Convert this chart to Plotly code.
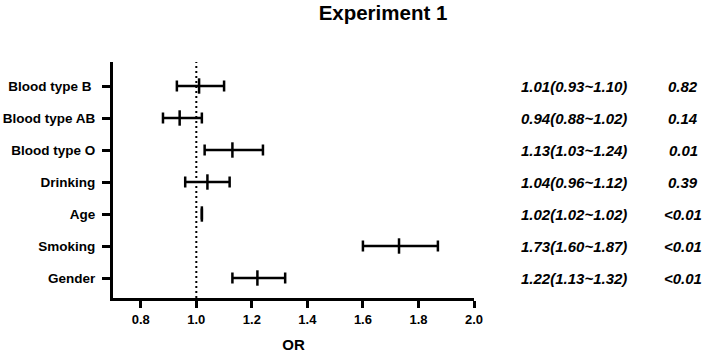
import plotly.graph_objects as go

categories = ["Blood type B\u00a0", "Blood type AB", "Blood type O", "Drinking", "Age", "Smoking", "Gender"]
or_vals = [1.01, 0.94, 1.13, 1.04, 1.02, 1.73, 1.22]
ci_low = [0.93, 0.88, 1.03, 0.96, 1.02, 1.60, 1.13]
ci_high = [1.10, 1.02, 1.24, 1.12, 1.02, 1.87, 1.32]
or_text = ["1.01(0.93~1.10)", "0.94(0.88~1.02)", "1.13(1.03~1.24)", "1.04(0.96~1.12)",
           "1.02(1.02~1.02)", "1.73(1.60~1.87)", "1.22(1.13~1.32)"]
p_text = ["0.82", "0.14", "0.01", "0.39", "<0.01", "<0.01", "<0.01"]
x_ticks = [0.8, 1.0, 1.2, 1.4, 1.6, 1.8, 2.0]

n = len(categories)
ypos = [n - 1 - i for i in range(n)]

FONT = "Arial, Liberation Sans, sans-serif"
TXT = dict(family=FONT, size=15, color="black", weight=700, style="italic")

fig = go.Figure()
fig.add_trace(go.Scatter(
    x=or_vals, y=ypos, mode="markers",
    marker=dict(symbol="line-ns", size=11, line=dict(width=2.5, color="black"), color="black"),
    error_x=dict(type="data", symmetric=False,
                 array=[h - o for h, o in zip(ci_high, or_vals)],
                 arrayminus=[o - l for o, l in zip(or_vals, ci_low)],
                 thickness=2.5, width=5.5, color="black"),
    showlegend=False, cliponaxis=False, hoverinfo="skip",
))

fig.add_shape(type="line", xref="x", yref="paper", x0=1.0, x1=1.0, y0=0, y1=1,
              line=dict(color="black", width=2, dash="2px,3px"), layer="below")

OR_X = 1.277
P_X = 1.58
anns = []
for yp, t, p in zip(ypos, or_text, p_text):
    anns.append(dict(xref="paper", yref="y", x=OR_X, y=yp, text=t, showarrow=False,
                     xanchor="center", yanchor="middle", font=TXT))
    anns.append(dict(xref="paper", yref="y", x=P_X, y=yp, text=p.replace("<", "&lt;"), showarrow=False,
                     xanchor="center", yanchor="middle", font=TXT))
anns.append(dict(xref="paper", yref="y", x=OR_X, y=6.9, text="OR(95%CI)", showarrow=False,
                 xanchor="center", yanchor="middle", font=TXT))
anns.append(dict(xref="paper", yref="y", x=P_X, y=6.9, text="P", showarrow=False,
                 xanchor="center", yanchor="middle", font=TXT))

fig.update_layout(
    template="none",
    width=708, height=354,
    margin=dict(l=113, r=234, t=62, b=56, autoexpand=False),
    paper_bgcolor="white", plot_bgcolor="white",
    title=dict(text="Experiment 1", x=383 / 708, xanchor="center", xref="container",
               y=1 - 13 / 354, yanchor="middle", yref="container",
               font=dict(family=FONT, size=20.5, color="black", weight=700)),
    xaxis=dict(range=[0.7, 2.0], tickvals=x_ticks, ticktext=[f"{v:.1f}" for v in x_ticks],
               automargin=False,
               showgrid=False, zeroline=False, showline=True, linecolor="black", linewidth=3,
               ticks="outside", ticklen=7, tickwidth=3, tickcolor="black",
               tickfont=dict(family=FONT, size=13, color="black", weight=700),
               title=dict(text="OR", standoff=14,
                          font=dict(family=FONT, size=15, color="black", weight=700))),
    yaxis=dict(range=[-0.625, 6.75], tickvals=ypos, ticktext=categories,
               automargin=False,
               showgrid=False, zeroline=False, showline=True, linecolor="black", linewidth=3,
               ticks="outside", ticklen=8, tickwidth=3, tickcolor="black",
               ticklabelstandoff=4,
               tickfont=dict(family=FONT, size=13.5, color="black", weight=700)),
    annotations=anns,
)

fig.write_html("out.html", config={"displayModeBar": False},
               post_script="document.body.style.margin='0';")
